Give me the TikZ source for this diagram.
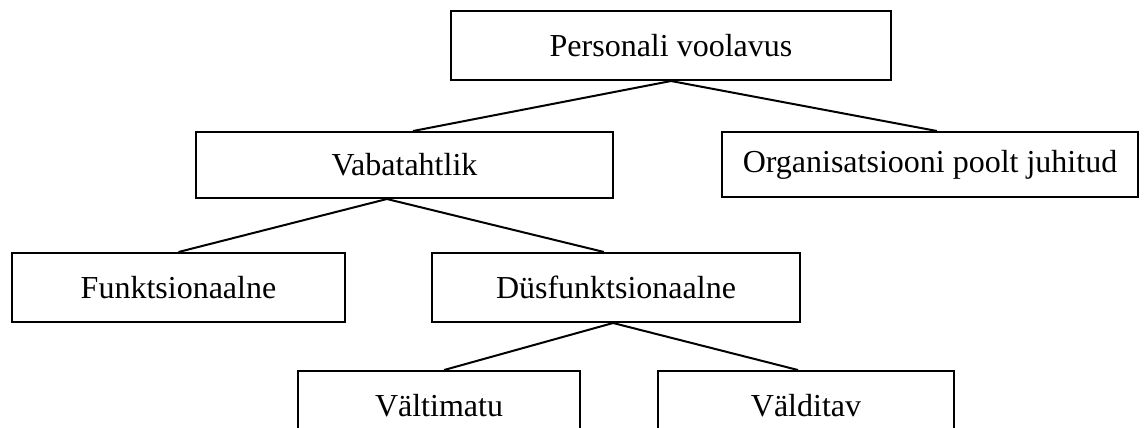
\documentclass[tikz,border=0pt]{standalone}
\usepackage{fontspec}
\setmainfont{Liberation Serif}
\usepackage{tikz}
\usetikzlibrary{positioning}

\begin{document}
\begin{tikzpicture}
		[x=0.375pt,y=-0.375pt,
		every node/.style={draw,rectangle,line width=0.75pt,inner sep=0pt,
			font=\fontsize{12}{14}\selectfont},
		box/.style={minimum height=25.875pt},
		edge/.style={draw,line width=0.75pt}]
		\useasboundingbox (0,0) rectangle (1145,427);
		\node[box,minimum width=165pt] (pv) at (671,45.5) {Personali voolavus};
		\node[minimum width=156.375pt,minimum height=24.75pt] (vaba) at (404.5,165) {Vabatahtlik};
		\node[minimum width=156pt,minimum height=24.375pt] (org) at (930,164.5) {Organisatsiooni poolt juhitud};
		\node[box,minimum width=124.875pt] (funk) at (178.5,287.5) {Funktsionaalne};
		\node[box,minimum width=138pt] (dys) at (616,287.5) {Düsfunktsionaalne};
		\node[box,minimum width=105.75pt] (valt) at (439,405.5) {Vältimatu};
		\node[box,minimum width=111pt] (vald) at (806,405.5) {Välditav};
		\path[edge] ([xshift=3.2pt]vaba.north) -- (pv.south) -- ([xshift=2.6pt]org.north);
		\path[edge] (funk.north) -- ([xshift=-6.6pt]vaba.south) -- ([xshift=-4.5pt]dys.north);
		\path[edge] ([xshift=1.9pt]valt.north) -- ([xshift=-1.1pt]dys.south) -- ([xshift=-3pt]vald.north);
	\end{tikzpicture}
\end{document}
